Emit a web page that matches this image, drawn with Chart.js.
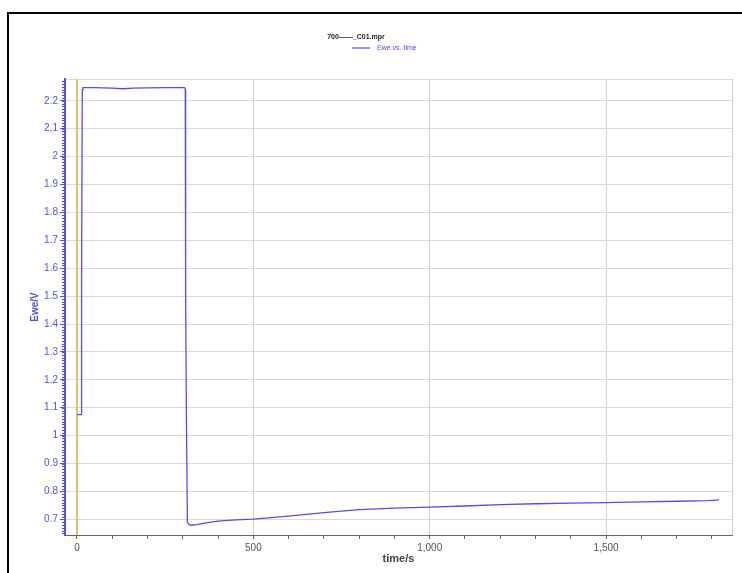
<!DOCTYPE html>
<html>
<head>
<meta charset="utf-8">
<script src="https://cdn.jsdelivr.net/npm/chart.js@4.4.1/dist/chart.umd.min.js"></script>
<style>
  body { margin: 0; background: #fff; }
  #wrap { position: relative; width: 742px; height: 573px; }
</style>
</head>
<body>
<div id="wrap"><canvas id="ewe"></canvas></div>
<script>
// Ewe vs. time

var fileName = '700\u2014\u2014_C01.mpr';
var seriesName = 'Ewe vs. time';

var timeS = [0, 12, 13, 15, 17, 50, 100, 130, 160, 200, 250, 305, 307, 308, 310, 313, 318, 325, 340, 370, 400, 450, 500, 600, 700, 800, 900, 1000, 1100, 1200, 1300, 1400, 1500, 1600, 1700, 1790, 1820];
var eweV = [1.075, 1.075, 1.55, 2.24, 2.247, 2.247, 2.245, 2.243, 2.245, 2.246, 2.247, 2.247, 2.24, 1.5, 1.1, 0.69, 0.681, 0.679, 0.681, 0.688, 0.694, 0.698, 0.701, 0.712, 0.724, 0.735, 0.740, 0.744, 0.748, 0.753, 0.756, 0.758, 0.760, 0.763, 0.765, 0.767, 0.770];

// orange marker at t = 0
var markerT = [0, 0];
var markerV = [0.644, 2.278];

// x ticks every 100 s, labels every 500 s
var xTicks = [0, 100, 200, 300, 400, 500, 600, 700, 800, 900, 1000, 1100, 1200, 1300, 1400, 1500, 1600, 1700, 1800];

var xMin = -34, xMax = 1857;
var yMin = 0.644, yMax = 2.278;

function toPoints(xs, ys) {
  return xs.map(function (x, i) { return { x: x, y: ys[i] }; });
}

function isStep(v, step) {
  var r = v / step;
  return Math.abs(r - Math.round(r)) < 1e-6;
}

var blue = '#4f4ff5';
var grey = '#d9d9d9';
var clear = 'rgba(0,0,0,0)';

// frame, header and minor ticks
var decor = {
  id: 'decor',
  afterDraw: function (chart) {
    var ctx = chart.ctx;
    var y = chart.scales.y;
    var a = chart.chartArea;
    ctx.save();
    // frame
    ctx.strokeStyle = '#000';
    ctx.lineWidth = 2;
    ctx.beginPath();
    ctx.moveTo(742, 13);
    ctx.lineTo(8, 13);
    ctx.lineTo(8, 573);
    ctx.stroke();

    // minor ticks on y
    ctx.strokeStyle = blue;
    ctx.lineWidth = 1;
    ctx.beginPath();
    for (var v = 65; v <= 227; v++) {
      var py = Math.round(y.getPixelForValue(v / 100)) + 0.5;
      ctx.moveTo(a.left - 3, py);
      ctx.lineTo(a.left + 1, py);
    }
    ctx.stroke();

    // header
    ctx.textBaseline = 'middle';
    ctx.font = 'bold 7px "Liberation Sans", Arial, sans-serif';
    ctx.fillStyle = '#222';
    ctx.textAlign = 'center';
    ctx.fillText(fileName, 356, 37);
    ctx.strokeStyle = blue;
    ctx.lineWidth = 1.2;
    ctx.beginPath();
    ctx.moveTo(352, 48);
    ctx.lineTo(370, 48);
    ctx.stroke();
    ctx.font = '7px "Liberation Sans", Arial, sans-serif';
    ctx.fillStyle = blue;
    ctx.textAlign = 'left';
    ctx.fillText(chart.data.datasets[0].label, 377, 48);
    ctx.restore();
  }
};

var chart = new Chart(document.getElementById('ewe').getContext('2d'), {
  type: 'scatter',
  data: {
    datasets: [
      {
        label: seriesName,
        data: toPoints(timeS, eweV),
        showLine: true,
        borderColor: blue,
        borderWidth: 1.3,
        pointRadius: 0,
        tension: 0
      },
      {
        label: 'marker',
        data: toPoints(markerT, markerV),
        showLine: true,
        borderColor: '#f7a94a',
        borderWidth: 1.5,
        pointRadius: 0
      }
    ]
  },
  options: {
    responsive: true,
    maintainAspectRatio: false,
    animation: false,
    layout: { padding: { top: 79, right: 10, left: 0, bottom: 0 } },
    plugins: {
      legend: { display: false },
      title: { display: false },
      tooltip: { enabled: false }
    },
    scales: {
      x: {
        type: 'linear',
        min: xMin,
        max: xMax,
        afterBuildTicks: function (s) {
          s.ticks = xTicks.map(function (v) { return { value: v }; }).concat([{ value: xMax }]);
        },
        afterFit: function (s) { s.height = 38; },
        border: { color: '#666', width: 1 },
        grid: {
          color: function (c) {
            var v = c.tick.value;
            return (v === xMax || isStep(v, 500)) ? '#d2d2d2' : clear;
          },
          tickColor: function (c) { return c.tick.value === xMax ? clear : '#666'; },
          tickLength: 4
        },
        ticks: {
          autoSkip: false,
          maxRotation: 0,
          padding: 3,
          color: '#555',
          font: { size: 10, family: '"Liberation Sans", Arial, sans-serif' },
          callback: function (v) {
            if (v === xMax || !isStep(v, 500)) return '';
            return v.toLocaleString('en-US');
          }
        },
        title: {
          display: true,
          text: 'time/s',
          color: '#444',
          font: { size: 11, weight: 'bold', family: '"Liberation Sans", Arial, sans-serif' },
          padding: { top: 0, bottom: 7 }
        }
      },
      y: {
        type: 'linear',
        min: yMin,
        max: yMax,
        afterFit: function (s) { s.width = 65; },
        border: { color: blue, width: 2 },
        grid: {
          color: function (c) { return c.tick.value === yMin ? clear : grey; },
          tickColor: function (c) { return isStep(c.tick.value, 0.1) ? blue : clear; },
          tickLength: 5
        },
        ticks: {
          stepSize: 0.1,
          autoSkip: false,
          padding: 2,
          color: blue,
          font: { size: 10, family: '"Liberation Sans", Arial, sans-serif' },
          callback: function (v) {
            if (!isStep(v, 0.1)) return '';
            return String(Number(v.toFixed(1)));
          }
        },
        title: {
          display: true,
          text: 'Ewe/V',
          color: blue,
          font: { size: 10, weight: 'bold', family: '"Liberation Sans", Arial, sans-serif' },
          padding: { top: 29, bottom: 0 }
        }
      }
    }
  },
  plugins: [decor]
});
</script>
</body>
</html>
